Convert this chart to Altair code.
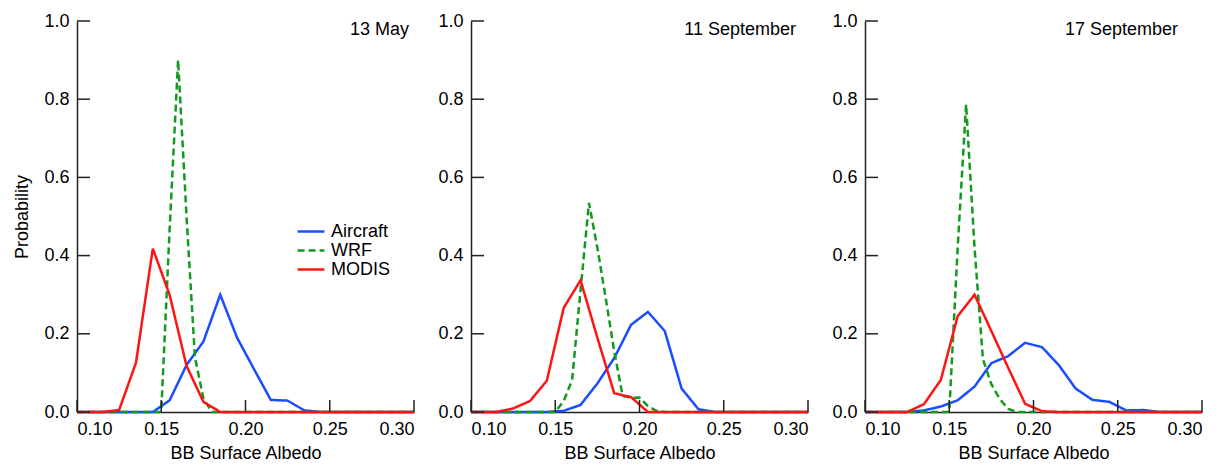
import altair as alt
import pandas as pd

SERIES = ["Aircraft", "WRF", "MODIS"]
COLORS = ["#1a4dff", "#12991f", "#ff1414"]
DASHES = [[1, 0], [7, 4], [1, 0]]
PANEL_TITLES = ["13 May", "11 September", "17 September"]
TITLE_INSETS = [5, 12, 24]

X_TICKS = [0.10, 0.15, 0.20, 0.25, 0.30]
Y_TICKS = [0.0, 0.2, 0.4, 0.6, 0.8, 1.0]

# ---- 13 May ----
may_air_x = [0.10, 0.145, 0.155, 0.165, 0.175, 0.185, 0.195, 0.205, 0.215, 0.225, 0.235, 0.245, 0.30]
may_air_y = [0.0, 0.0, 0.03, 0.12, 0.18, 0.30, 0.19, 0.11, 0.031, 0.029, 0.004, 0.0, 0.0]
may_wrf_x = [0.10, 0.15, 0.155, 0.16, 0.165, 0.17, 0.175, 0.18, 0.30]
may_wrf_y = [0.0, 0.0, 0.47, 0.90, 0.50, 0.14, 0.035, 0.0, 0.0]
may_mod_x = [0.10, 0.115, 0.125, 0.135, 0.145, 0.155, 0.165, 0.175, 0.185, 0.30]
may_mod_y = [0.0, 0.0, 0.005, 0.126, 0.418, 0.299, 0.118, 0.026, 0.0, 0.0]

# ---- 11 September ----
s11_air_x = [0.10, 0.145, 0.155, 0.165, 0.175, 0.185, 0.195, 0.205, 0.215, 0.225, 0.235, 0.245, 0.30]
s11_air_y = [0.0, 0.0, 0.003, 0.018, 0.073, 0.138, 0.223, 0.256, 0.207, 0.06, 0.007, 0.0, 0.0]
s11_wrf_x = [0.10, 0.15, 0.155, 0.16, 0.165, 0.17, 0.175, 0.18, 0.185, 0.19, 0.195, 0.20, 0.205, 0.21, 0.215, 0.30]
s11_wrf_y = [0.0, 0.0, 0.028, 0.082, 0.31, 0.535, 0.42, 0.29, 0.155, 0.041, 0.036, 0.037, 0.015, 0.003, 0.0, 0.0]
s11_mod_x = [0.10, 0.115, 0.125, 0.135, 0.145, 0.155, 0.165, 0.175, 0.185, 0.195, 0.205, 0.30]
s11_mod_y = [0.0, 0.0, 0.009, 0.028, 0.08, 0.266, 0.337, 0.19, 0.048, 0.038, 0.0, 0.0]

# ---- 17 September ----
s17_air_x = [0.10, 0.125, 0.135, 0.145, 0.155, 0.165, 0.175, 0.185, 0.195, 0.205, 0.215, 0.225, 0.235, 0.245, 0.255, 0.265, 0.275, 0.30]
s17_air_y = [0.0, 0.0, 0.004, 0.014, 0.03, 0.065, 0.125, 0.143, 0.177, 0.166, 0.12, 0.06, 0.031, 0.026, 0.004, 0.005, 0.0, 0.0]
s17_wrf_x = [0.10, 0.15, 0.155, 0.16, 0.165, 0.17, 0.175, 0.18, 0.185, 0.19, 0.30]
s17_wrf_y = [0.0, 0.0, 0.42, 0.787, 0.42, 0.135, 0.071, 0.033, 0.008, 0.0, 0.0]
s17_mod_x = [0.10, 0.125, 0.135, 0.145, 0.155, 0.165, 0.175, 0.185, 0.195, 0.205, 0.215, 0.30]
s17_mod_y = [0.0, 0.0, 0.02, 0.082, 0.245, 0.30, 0.207, 0.113, 0.021, 0.002, 0.0, 0.0]

PANEL_DATA = [
    [(may_air_x, may_air_y), (may_wrf_x, may_wrf_y), (may_mod_x, may_mod_y)],
    [(s11_air_x, s11_air_y), (s11_wrf_x, s11_wrf_y), (s11_mod_x, s11_mod_y)],
    [(s17_air_x, s17_air_y), (s17_wrf_x, s17_wrf_y), (s17_mod_x, s17_mod_y)],
]

W, H = 337, 391
FONT = "Liberation Sans"


def make_df(series_pairs):
    rows = []
    for name, (xs, ys) in zip(SERIES, series_pairs):
        for i, (x, y) in enumerate(zip(xs, ys)):
            rows.append({"albedo": x, "prob": y, "series": name, "idx": i})
    return pd.DataFrame(rows)


def panel(i):
    df = make_df(PANEL_DATA[i])
    xscale = alt.Scale(domain=[0.10, 0.30], nice=False, zero=False)
    yscale = alt.Scale(domain=[0.0, 1.0], nice=False)
    first = i == 0
    xaxis = alt.Axis(values=X_TICKS, format=".2f", title="BB Surface Albedo")
    yaxis = alt.Axis(values=Y_TICKS, format=".1f", title="Probability" if first else "")

    legend = (
        alt.Legend(
            title=None,
            orient="none",
            legendX=219,
            legendY=201,
            symbolType="stroke",
            symbolSize=720,
            symbolStrokeWidth=2.5,
            labelFontSize=18,
            labelFont=FONT,
            labelColor="black",
            labelOffset=5,
            clipHeight=19,
            rowPadding=0,
        )
        if first
        else None
    )

    lines = alt.Chart(df).mark_line(strokeWidth=2.5).encode(
        x=alt.X("albedo:Q", scale=xscale, axis=xaxis),
        y=alt.Y("prob:Q", scale=yscale, axis=yaxis),
        color=alt.Color("series:N", scale=alt.Scale(domain=SERIES, range=COLORS), legend=legend),
        strokeDash=alt.StrokeDash("series:N", scale=alt.Scale(domain=SERIES, range=DASHES), legend=legend),
        order="idx:Q",
    )

    ytick = alt.Chart(pd.DataFrame({"prob": Y_TICKS})).mark_rule(color="#222", strokeWidth=1.5).encode(
        y=alt.Y("prob:Q", scale=yscale, axis=yaxis),
        x=alt.value(0),
        x2=alt.value(13),
    )
    xtick = alt.Chart(pd.DataFrame({"albedo": X_TICKS})).mark_rule(color="#222", strokeWidth=1.5).encode(
        x=alt.X("albedo:Q", scale=xscale, axis=xaxis),
        y=alt.value(H),
        y2=alt.value(H - 12),
    )
    label = alt.Chart(pd.DataFrame({"t": [PANEL_TITLES[i]]})).mark_text(
        align="right", baseline="middle", fontSize=18, font=FONT, color="black"
    ).encode(
        text="t:N",
        x=alt.value(W - TITLE_INSETS[i]),
        y=alt.value(9),
    )
    return alt.layer(lines, ytick, xtick, label).properties(width=W, height=H)


chart = (
    alt.hconcat(panel(0), panel(1), panel(2), spacing=57, bounds="flush")
    .configure_view(stroke=None)
    .configure_axis(
        grid=False,
        ticks=False,
        domainColor="#222",
        domainWidth=1.5,
        labelFont=FONT,
        labelFontSize=18,
        labelColor="black",
        titleFont=FONT,
        titleFontSize=18,
        titleFontWeight="normal",
        titleColor="black",
    )
    .configure_axisX(labelPadding=8, titlePadding=6)
    .configure_axisY(labelPadding=8, titlePadding=12)
    .properties(background="white", padding={"left": 5, "top": 4, "right": 5, "bottom": 5})
)

chart.save("out.html", embed_options={"renderer": "svg", "actions": False})
